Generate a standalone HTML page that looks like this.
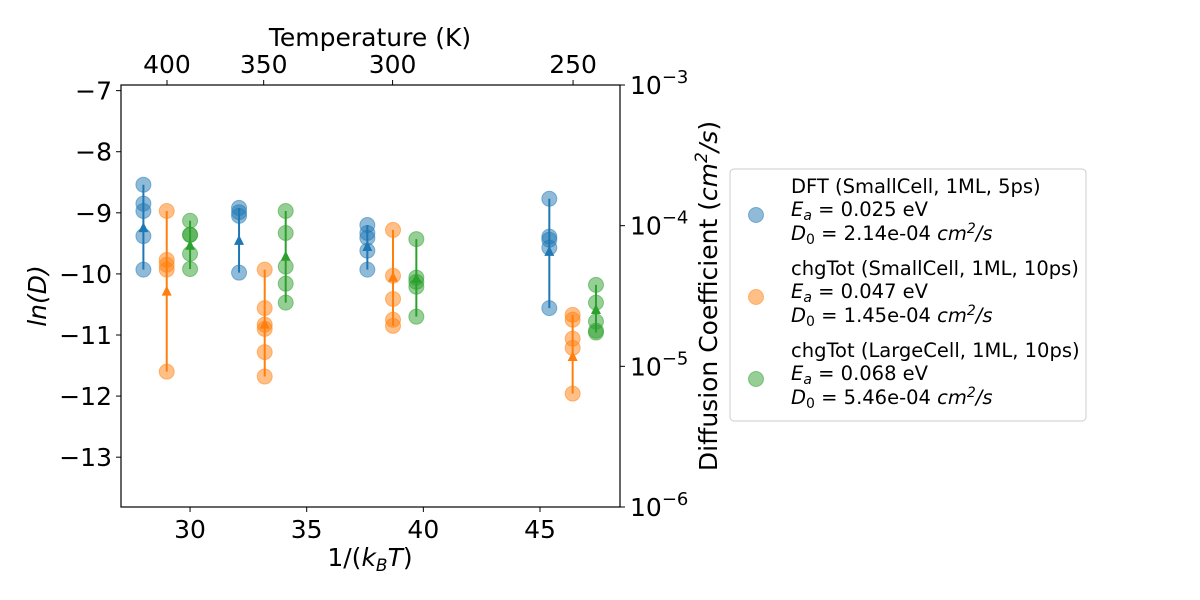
<!DOCTYPE html>
<html><head><meta charset="utf-8">
<style>
html,body{margin:0;padding:0;background:#fff;}
svg{display:block;font-family:"DejaVu Sans","Liberation Sans",sans-serif;}
</style></head>
<body>
<svg id="chart" width="1200" height="600" viewBox="0 0 1200 600"></svg>
<script>
const seriesNames = ["DFT (SmallCell, 1ML, 5ps)", "chgTot (SmallCell, 1ML, 10ps)", "chgTot (LargeCell, 1ML, 10ps)"];
const seriesEa = ["0.025", "0.047", "0.068"];
const seriesD0 = ["2.14e-04", "1.45e-04", "5.46e-04"];
const colors = ["#1f77b4", "#ff7f0e", "#2ca02c"];
const dftX = [28.0, 32.1, 37.6, 45.4];
const dftY = [[-8.54,-8.85,-8.97,-9.38,-9.93],[-8.92,-8.99,-9.05,-9.98],[-9.20,-9.33,-9.41,-9.62,-9.93],[-8.77,-9.39,-9.44,-9.57,-10.56]];
const dftMean = [-9.25,-9.46,-9.56,-9.64];
const smallX = [29.0, 33.2, 38.7, 46.4];
const smallY = [[-8.97,-9.77,-9.85,-9.93,-11.60],[-9.93,-10.56,-10.83,-10.90,-11.28,-11.68],[-9.28,-10.03,-10.41,-10.75,-10.85],[-10.67,-10.75,-11.06,-11.21,-11.96]];
const smallMean = [-10.29,-10.83,-10.06,-11.36];
const largeX = [30.0, 34.1, 39.7, 47.4];
const largeY = [[-9.13,-9.36,-9.36,-9.67,-9.92],[-8.97,-9.33,-9.88,-10.16,-10.47],[-9.43,-10.06,-10.13,-10.21,-10.70],[-10.18,-10.47,-10.78,-10.93,-10.96]];
const largeMean = [-9.54,-9.72,-10.08,-10.59];
const xTicks = [30,35,40,45];
const yTicks = [-7,-8,-9,-10,-11,-12,-13];
const tempTicks = [400,350,300,250];
const rightTicks = [-3,-4,-5,-6];

const L=121,R=620,T=85,B=507;
const xMin=27.04,xMax=48.43,yMin=Math.log(1e-6),yMax=Math.log(1e-3);
const sx=v=>L+(v-xMin)/(xMax-xMin)*(R-L);
const sy=v=>T+(yMax-v)/(yMax-yMin)*(B-T);
const NS="http://www.w3.org/2000/svg";
const svg=document.getElementById('chart');
function mk(tag,attrs,parent,text){const e=document.createElementNS(NS,tag);for(const k in attrs)e.setAttribute(k,attrs[k]);if(text!==undefined)e.textContent=text;(parent||svg).appendChild(e);return e;}

const frame=mk('rect',{x:L,y:T,width:R-L,height:B-T,fill:'none',stroke:'#000','stroke-width':1.2});



const FS=25;
xTicks.forEach(t=>{const x=sx(t);
 mk('line',{x1:x,y1:B,x2:x,y2:B+5,stroke:'#000'});
 const lb=mk('text',{x:x,y:B+31,'font-size':FS,'text-anchor':'middle'},svg,String(t));
 
 
});
yTicks.forEach(t=>{const y=sy(t);
 mk('line',{x1:L-5,y1:y,x2:L,y2:y,stroke:'#000'});
 const lb=mk('text',{x:L-9,y:y+9,'font-size':FS,'text-anchor':'end'},svg,'\u2212'+Math.abs(t));
 
 
});
const kB=8.617333e-5;
tempTicks.forEach(t=>{const x=sx(1/(kB*t));
 mk('line',{x1:x,y1:T-5,x2:x,y2:T,stroke:'#000'});
 const lb=mk('text',{x:x,y:T-12,'font-size':FS,'text-anchor':'middle'},svg,String(t));
 
 
});
rightTicks.forEach(p=>{const y=sy(p*Math.log(10));
 mk('line',{x1:R,y1:y,x2:R+5,y2:y,stroke:'#000'});
 const g=mk('text',{x:R+10,y:y+9,'font-size':FS},svg);
 mk('tspan',{},g,'10');
 mk('tspan',{dy:-11,'font-size':18},g,'\u2212'+Math.abs(p));
 
 
});

let t1=mk('text',{x:370,y:46,'font-size':FS,'text-anchor':'middle'},svg,'Temperature (K)');

let t2=mk('text',{x:370,y:566,'font-size':FS,'text-anchor':'middle'},svg);
mk('tspan',{},t2,'1/(');mk('tspan',{'font-style':'italic'},t2,'k');mk('tspan',{'font-style':'italic','font-size':17,dy:5},t2,'B');mk('tspan',{'font-style':'italic',dy:-5},t2,'T');mk('tspan',{},t2,')');

let t3=mk('text',{x:0,y:0,'font-size':FS,'text-anchor':'middle','font-style':'italic',transform:'translate(46,296) rotate(-90)'},svg,'ln(D)');

let t4=mk('text',{x:0,y:0,'font-size':FS,'text-anchor':'middle',transform:'translate(717,296) rotate(-90)'},svg);
mk('tspan',{},t4,'Diffusion Coefficient (');mk('tspan',{'font-style':'italic'},t4,'cm');mk('tspan',{'font-size':17,dy:-10,'font-style':'italic'},t4,'2');mk('tspan',{dy:10,'font-style':'italic'},t4,'/s');mk('tspan',{},t4,')');


const allX=[dftX,smallX,largeX],allY=[dftY,smallY,largeY],allM=[dftMean,smallMean,largeMean];
allX.forEach((xs,si)=>{
 const g=mk('g',{});
 
 
 xs.forEach((xv,i)=>{
  const ys=allY[si][i];const x=sx(xv);
  ys.forEach(yv=>{const c=mk('circle',{cx:x,cy:sy(yv),r:7.5,fill:colors[si],'fill-opacity':0.5,stroke:colors[si],'stroke-opacity':0.5},g);
   });
  const lo=Math.min(...ys),hi=Math.max(...ys);
  const eb=mk('line',{x1:x,y1:sy(hi),x2:x,y2:sy(lo),stroke:colors[si],'stroke-width':2},g);
  
  const my=sy(allM[si][i]);
  const tr=mk('polygon',{points:`${x},${my-6} ${x-5},${my+4} ${x+5},${my+4}`,fill:colors[si]},g);
  
 });
});

const LF=19.5;
const lg=mk('g',{});

mk('rect',{x:730,y:169,width:356,height:252,rx:4,fill:'#fff',stroke:'#ccc'},lg);
seriesNames.forEach((n,i)=>{
 const y0=186+i*82;
 const e=mk('g',{},lg);
 
 mk('circle',{cx:756,cy:y0+29,r:7.5,fill:colors[i],'fill-opacity':0.5,stroke:colors[i],'stroke-opacity':0.5},e);
 mk('text',{x:791,y:y0+7,'font-size':LF},e,n);
 const a=mk('text',{x:791,y:y0+30,'font-size':LF},e);
 mk('tspan',{'font-style':'italic'},a,'E');mk('tspan',{'font-style':'italic','font-size':14,dy:4},a,'a');mk('tspan',{dy:-4},a,' = '+seriesEa[i]+' eV');
 const d=mk('text',{x:791,y:y0+54,'font-size':LF},e);
 mk('tspan',{'font-style':'italic'},d,'D');mk('tspan',{'font-size':14,dy:4},d,'0');mk('tspan',{dy:-4},d,' = '+seriesD0[i]+' ');mk('tspan',{'font-style':'italic'},d,'cm');mk('tspan',{'font-size':14,dy:-7,'font-style':'italic'},d,'2');mk('tspan',{dy:7,'font-style':'italic'},d,'/s');
});
</script>
</body></html>
